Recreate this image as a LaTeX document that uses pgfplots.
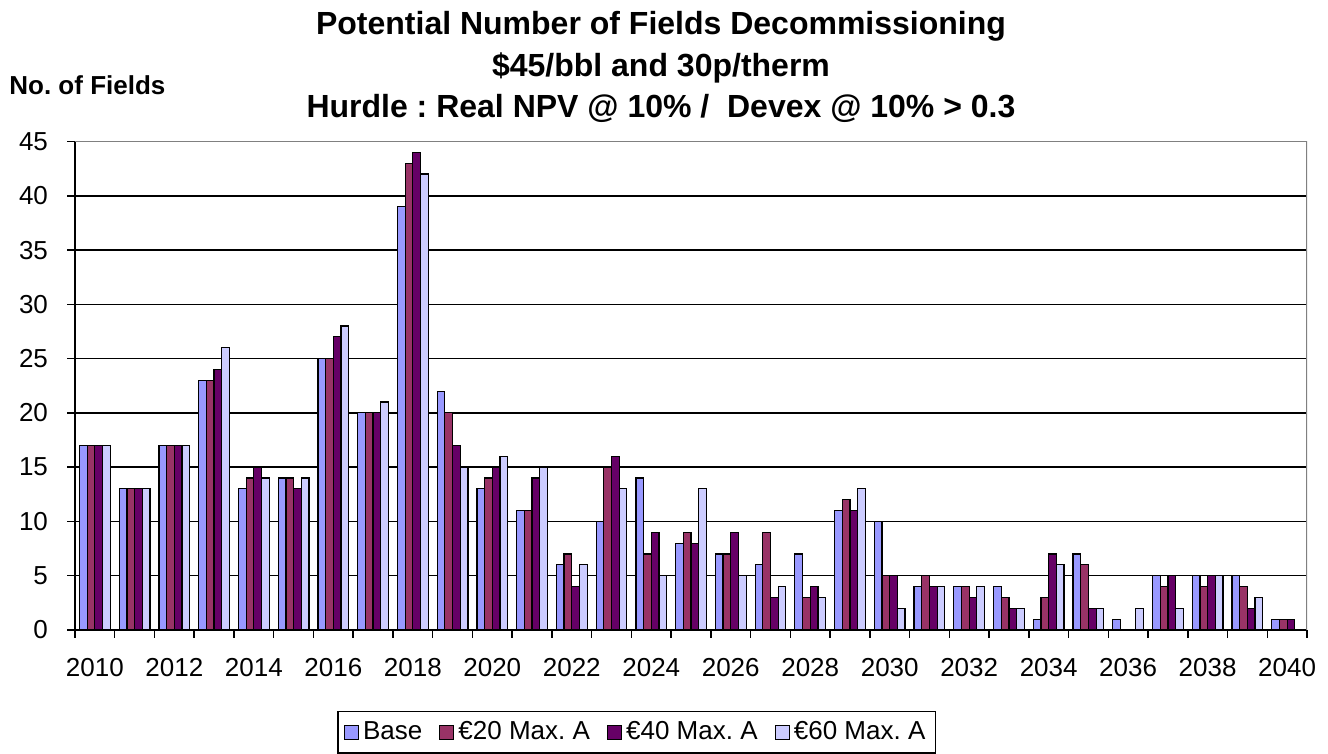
\documentclass[border=0pt]{standalone}
\usepackage{pgfplots}
\usepackage{pgfplotstable}
\pgfplotsset{compat=1.18}
\usepackage{fontspec}
\setmainfont{Liberation Sans}
\frenchspacing
\definecolor{cA}{HTML}{9999FF}
\definecolor{cB}{HTML}{993366}
\definecolor{cC}{HTML}{660066}
\definecolor{cD}{HTML}{CCCCFF}
\pgfplotstableread{
year base e20 e40 e60
2010 17 17 17 17
2011 13 13 13 13
2012 17 17 17 17
2013 23 23 24 26
2014 13 14 15 14
2015 14 14 13 14
2016 25 25 27 28
2017 20 20 20 21
2018 39 43 44 42
2019 22 20 17 15
2020 13 14 15 16
2021 11 11 14 15
2022 6 7 4 6
2023 10 15 16 13
2024 14 7 9 5
2025 8 9 8 13
2026 7 7 9 5
2027 6 9 3 4
2028 7 3 4 3
2029 11 12 11 13
2030 10 5 5 2
2031 4 5 4 4
2032 4 4 3 4
2033 4 3 2 2
2034 1 3 7 6
2035 7 6 2 2
2036 1 0 0 2
2037 5 4 5 2
2038 5 4 5 5
2039 5 4 2 3
2040 1 1 1 0
}\data
\begin{document}
\begin{tikzpicture}[x=1pt,y=1pt]
\path[use as bounding box] (0,0) rectangle (664,377);
\node[font=\fontsize{16}{19}\selectfont\bfseries, anchor=base, inner sep=0pt] at (330.5,359.5) {Potential Number of Fields Decommissioning};
\node[font=\fontsize{16}{19}\selectfont\bfseries, anchor=base, inner sep=0pt] at (330.5,338.75) {\$45/bbl and 30p/therm};
\node[font=\fontsize{16}{19}\selectfont\bfseries, anchor=base, inner sep=0pt] at (330.5,318) {Hurdle : Real NPV @ 10\% /\ \ Devex @ 10\% > 0.3};
\node[font=\fontsize{13}{15}\selectfont\bfseries, anchor=base west, inner sep=0pt] at (4.5,329.5) {No. of Fields};
\begin{axis}[at={(37.5pt,62pt)}, anchor=south west, scale only axis,
  width=616pt, height=244.25pt,
  xmin=2009.5, xmax=2040.5, ymin=0, ymax=45,
  ybar=0pt, bar width=3.84pt,
  axis x line*=bottom, axis y line*=left,
  axis line style={black, line width=0.75pt},
  tick align=outside, major tick length=4pt,
  tick style={black, line width=0.75pt},
  ytick={0,5,...,45},
  ymajorgrids, grid style={black, line width=0.75pt},
  xtick={2009.5,2010.5,...,2040.5}, xticklabels={},
  extra x ticks={2010,2012,...,2040},
  extra x tick style={major tick length=0pt, grid=none},
  /pgf/number format/1000 sep={},
  /pgf/number format/assume math mode=true,
  ticklabel style={font=\fontsize{13}{15}\selectfont},
  xticklabel style={yshift=-10.5pt},
  yticklabel style={xshift=-6pt},
  legend style={at={(0.2127,0)}, anchor=north west, yshift=-40.5pt,
    draw=black, line width=0.75pt, font=\fontsize{13}{15}\selectfont,
    inner xsep=3pt, inner ysep=3pt,
    /tikz/every even column/.append style={column sep=6.5pt}},
  legend columns=4,
  legend image code/.code={\draw[#1, line width=0.6pt] (0pt,-3.5pt) rectangle (7pt,3.5pt);},
  every axis plot/.append style={draw=black, line width=0.6pt},
]
\addplot[fill=cA] table[x=year, y=base] {\data};
\addplot[fill=cB] table[x=year, y=e20] {\data};
\addplot[fill=cC] table[x=year, y=e40] {\data};
\addplot[fill=cD] table[x=year, y=e60] {\data};
\legend{Base, €20 Max. A, €40 Max. A, €60 Max. A}
\draw[gray, line width=1pt] (rel axis cs:0,1) -- (rel axis cs:1,1) -- (rel axis cs:1,0);
\end{axis}
\end{tikzpicture}
\end{document}
